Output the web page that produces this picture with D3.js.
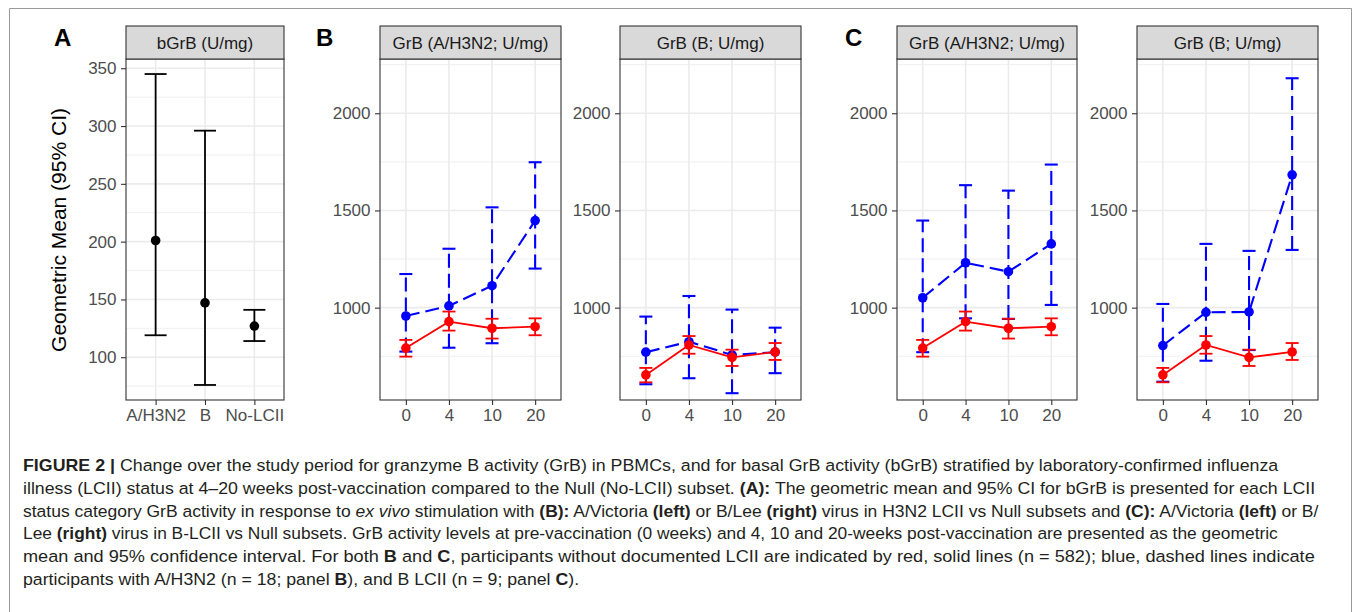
<!DOCTYPE html>
<html>
<head>
<meta charset="utf-8">
<script src="https://cdn.jsdelivr.net/npm/d3@7"></script>
<style>
  body { margin: 0; background: #fff; }
  svg text { font-family: "Liberation Sans", Arial, Helvetica, sans-serif; }
</style>
</head>
<body>
<svg id="fig"></svg>
<script>
// panel A: basal GrB by LCII status
var groupsA = ["A/H3N2", "B", "No-LCII"];
var bgrbMean = [201, 147, 127];
var bgrbLo = [119, 76, 114];
var bgrbHi = [345, 296, 141];
var ticksA = [100, 150, 200, 250, 300, 350];

// panels B, C: weeks post vaccination
var weeks = ["0", "4", "10", "20"];
var ticksGrB = [1000, 1500, 2000];

// Null (No-LCII) subset, red solid
var nullH3Mean = [792, 928, 894, 902];
var nullH3Lo = [748, 882, 841, 858];
var nullH3Hi = [834, 980, 943, 945];
var nullBMean = [654, 808, 744, 772];
var nullBLo = [616, 763, 700, 731];
var nullBHi = [690, 854, 784, 818];

// A/H3N2 LCII subset (panel B), blue dashed
var h3LciiH3Mean = [957, 1009, 1113, 1448];
var h3LciiH3Lo = [774, 794, 817, 1201];
var h3LciiH3Hi = [1173, 1303, 1516, 1748];
var h3LciiBMean = [771, 825, 757, 771];
var h3LciiBLo = [606, 637, 560, 663];
var h3LciiBHi = [954, 1060, 990, 897];

// B LCII subset (panel C), blue dashed
var bLciiH3Mean = [1051, 1231, 1185, 1328];
var bLciiH3Lo = [771, 945, 942, 1014];
var bLciiH3Hi = [1448, 1630, 1602, 1736];
var bLciiBMean = [805, 976, 978, 1683];
var bLciiBLo = [619, 727, 782, 1297];
var bLciiBHi = [1019, 1328, 1292, 2180];

var W = 1355, H = 612;
var svg = d3.select("#fig").attr("width", W).attr("height", H);

var panelTop = 59, panelBottom = 400, stripTop = 26;
var tickCol = "#4d4d4d", frameCol = "#333333";

// outer frame of the figure
svg.append("path")
    .attr("d", "M9.5," + (H + 5) + "V8.5H1351.5V" + (H + 5))
    .attr("fill", "none")
    .attr("stroke", "#9a9a9a")
    .attr("stroke-width", 1);

function strip(x0, x1, label){
    svg.append("rect")
        .attr("x", x0).attr("y", stripTop)
        .attr("width", x1 - x0).attr("height", panelTop - stripTop)
        .attr("fill", "#d9d9d9")
        .attr("stroke", frameCol).attr("stroke-width", 1.1);
    svg.append("text")
        .attr("x", (x0 + x1) / 2).attr("y", (stripTop + panelTop) / 2)
        .attr("dy", "0.36em")
        .attr("text-anchor", "middle")
        .attr("font-size", 17)
        .attr("fill", "#1a1a1a")
        .text(label);
}

function grid(x, y, x0, x1, major, minor){
    var g = svg.append("g");
    g.selectAll(".minor").data(minor).enter().append("line")
        .attr("x1", x0).attr("x2", x1)
        .attr("y1", function(d){ return y(d); })
        .attr("y2", function(d){ return y(d); })
        .attr("stroke", "#f0f0f0").attr("stroke-width", 1);
    g.selectAll(".majy").data(major).enter().append("line")
        .attr("x1", x0).attr("x2", x1)
        .attr("y1", function(d){ return y(d); })
        .attr("y2", function(d){ return y(d); })
        .attr("stroke", "#ebebeb").attr("stroke-width", 1.6);
    g.selectAll(".majx").data(x.domain()).enter().append("line")
        .attr("x1", function(d){ return x(d); })
        .attr("x2", function(d){ return x(d); })
        .attr("y1", panelTop).attr("y2", panelBottom)
        .attr("stroke", "#ebebeb").attr("stroke-width", 1.6);
}

function axes(x, y, x0, x1, yTicks){
    var ax = svg.append("g")
        .attr("transform", "translate(0," + panelBottom + ")")
        .call(d3.axisBottom(x).tickSize(5).tickPadding(4));
    var ay = svg.append("g")
        .attr("transform", "translate(" + x0 + ",0)")
        .call(d3.axisLeft(y).tickValues(yTicks).tickFormat(d3.format("d"))
            .tickSize(5).tickPadding(4.5));
    [ax, ay].forEach(function(a){
        a.select(".domain").remove();
        a.selectAll(".tick line").attr("stroke", frameCol).attr("stroke-width", 1.1);
        a.selectAll(".tick text")
            .attr("fill", tickCol)
            .attr("font-size", 17)
            .attr("font-family", "Liberation Sans, Arial, sans-serif");
    });
    svg.append("rect")
        .attr("x", x0).attr("y", panelTop)
        .attr("width", x1 - x0).attr("height", panelBottom - panelTop)
        .attr("fill", "none")
        .attr("stroke", frameCol).attr("stroke-width", 1.1);
}

function series(x, y, keys, mean, lo, hi, color, dash, capHalf, lineW, joined){
    var rows = keys.map(function(k, i){
        return {k: k, m: mean[i], lo: lo[i], hi: hi[i]};
    });
    var g = svg.append("g")
        .attr("stroke", color).attr("fill", "none")
        .attr("stroke-width", lineW);
    if (dash) g.attr("stroke-dasharray", dash);
    if (joined) {
        g.append("path")
            .attr("d", d3.line()
                .x(function(d){ return x(d.k); })
                .y(function(d){ return y(d.m); })(rows));
    }
    g.selectAll(".bar").data(rows).enter().append("line")
        .attr("x1", function(d){ return x(d.k); })
        .attr("x2", function(d){ return x(d.k); })
        .attr("y1", function(d){ return y(d.lo); })
        .attr("y2", function(d){ return y(d.hi); });
    ["lo", "hi"].forEach(function(end){
        g.selectAll(".cap" + end).data(rows).enter().append("line")
            .attr("x1", function(d){ return x(d.k) - capHalf; })
            .attr("x2", function(d){ return x(d.k) + capHalf; })
            .attr("y1", function(d){ return y(d[end]); })
            .attr("y2", function(d){ return y(d[end]); })
            .attr("stroke-dasharray", "none");
    });
    svg.append("g").selectAll("circle").data(rows).enter().append("circle")
        .attr("cx", function(d){ return x(d.k); })
        .attr("cy", function(d){ return y(d.m); })
        .attr("r", 4.8)
        .attr("fill", color);
}

function panelLabel(px, letter){
    svg.append("text")
        .attr("x", px).attr("y", 46)
        .attr("font-size", 24).attr("font-weight", "bold")
        .attr("fill", "#000")
        .text(letter);
}

// ---- panel A ----
var xA = d3.scalePoint().domain(groupsA).range([126, 284]).padding(0.6);
var yA = d3.scaleLinear().domain([63, 358]).range([panelBottom, panelTop]);
grid(xA, yA, 126, 284, ticksA, [75, 125, 175, 225, 275, 325]);
series(xA, yA, groupsA, bgrbMean, bgrbLo, bgrbHi, "#000000", null, 11, 1.8, false);
axes(xA, yA, 126, 284, ticksA);
strip(126, 284, "bGrB (U/mg)");
panelLabel(54, "A");

svg.append("text")
    .attr("transform", "translate(58,230) rotate(-90)")
    .attr("dy", "0.36em")
    .attr("text-anchor", "middle")
    .attr("font-size", 21)
    .attr("fill", "#000")
    .text("Geometric Mean (95% CI)");

// ---- panels B and C ----
var yG = d3.scaleLinear().domain([525, 2279]).range([panelBottom, panelTop]);

function timePanel(x0, x1, title, red, blue){
    var x = d3.scalePoint().domain(weeks).range([x0, x1]).padding(0.6);
    grid(x, yG, x0, x1, ticksGrB, [750, 1250, 1750, 2250]);
    series(x, yG, weeks, blue[0], blue[1], blue[2], "#0000ff", "14,6", 6.5, 2.1, true);
    series(x, yG, weeks, red[0], red[1], red[2], "#ff0000", null, 6.5, 1.8, true);
    axes(x, yG, x0, x1, ticksGrB);
    strip(x0, x1, title);
}

timePanel(380, 561, "GrB (A/H3N2; U/mg)",
    [nullH3Mean, nullH3Lo, nullH3Hi], [h3LciiH3Mean, h3LciiH3Lo, h3LciiH3Hi]);
timePanel(620, 801, "GrB (B; U/mg)",
    [nullBMean, nullBLo, nullBHi], [h3LciiBMean, h3LciiBLo, h3LciiBHi]);
timePanel(897, 1077, "GrB (A/H3N2; U/mg)",
    [nullH3Mean, nullH3Lo, nullH3Hi], [bLciiH3Mean, bLciiH3Lo, bLciiH3Hi]);
timePanel(1137, 1318, "GrB (B; U/mg)",
    [nullBMean, nullBLo, nullBHi], [bLciiBMean, bLciiBLo, bLciiBHi]);

panelLabel(316, "B");
panelLabel(845, "C");

// ---- caption ----
// each line is a list of [text, style] pieces, b = bold, i = italic
var caption = [
    [["FIGURE 2 |", "b"], [" Change over the study period for granzyme B activity (GrB) in PBMCs, and for basal GrB activity (bGrB) stratified by laboratory-confirmed influenza", ""]],
    [["illness (LCII) status at 4\u201320 weeks post-vaccination compared to the Null (No-LCII) subset. ", ""], ["(A):", "b"], [" The geometric mean and 95% CI for bGrB is presented for each LCII", ""]],
    [["status category GrB activity in response to ", ""], ["ex vivo", "i"], [" stimulation with ", ""], ["(B):", "b"], [" A/Victoria ", ""], ["(left)", "b"], [" or B/Lee ", ""], ["(right)", "b"], [" virus in H3N2 LCII vs Null subsets and ", ""], ["(C):", "b"], [" A/Victoria ", ""], ["(left)", "b"], [" or B/", ""]],
    [["Lee ", ""], ["(right)", "b"], [" virus in B-LCII vs Null subsets. GrB activity levels at pre-vaccination (0 weeks) and 4, 10 and 20-weeks post-vaccination are presented as the geometric", ""]],
    [["mean and 95% confidence interval. For both ", ""], ["B", "b"], [" and ", ""], ["C", "b"], [", participants without documented LCII are indicated by red, solid lines (n = 582); blue, dashed lines indicate", ""]],
    [["participants with A/H3N2 (n = 18; panel ", ""], ["B", "b"], ["), and B LCII (n = 9; panel ", ""], ["C", "b"], [").", ""]]
];
// right end of each full caption line as laid out in the figure (last line is short)
var captionEnds = [1279, 1316, 1319, 1278, 1316, null];

var capLeft = 23;
var cap = svg.append("g");
var scales = [];
caption.forEach(function(line, i){
    var t = cap.append("text")
        .attr("x", 0)
        .attr("y", 0)
        .attr("font-size", 16.5)
        .attr("fill", "#231f20")
        .style("white-space", "pre");
    line.forEach(function(p){
        t.append("tspan")
            .attr("font-weight", p[1] == "b" ? "bold" : null)
            .attr("font-style", p[1] == "i" ? "italic" : null)
            .text(p[0]);
    });
    var sx;
    if (captionEnds[i]) {
        sx = (captionEnds[i] - capLeft) / t.node().getComputedTextLength();
        scales.push(sx);
    } else {
        sx = d3.mean(scales);
    }
    t.attr("transform", "translate(" + capLeft + "," + (471 + i * 22.8) + ") scale(" + sx + ",1)");
});
</script>
</body>
</html>
